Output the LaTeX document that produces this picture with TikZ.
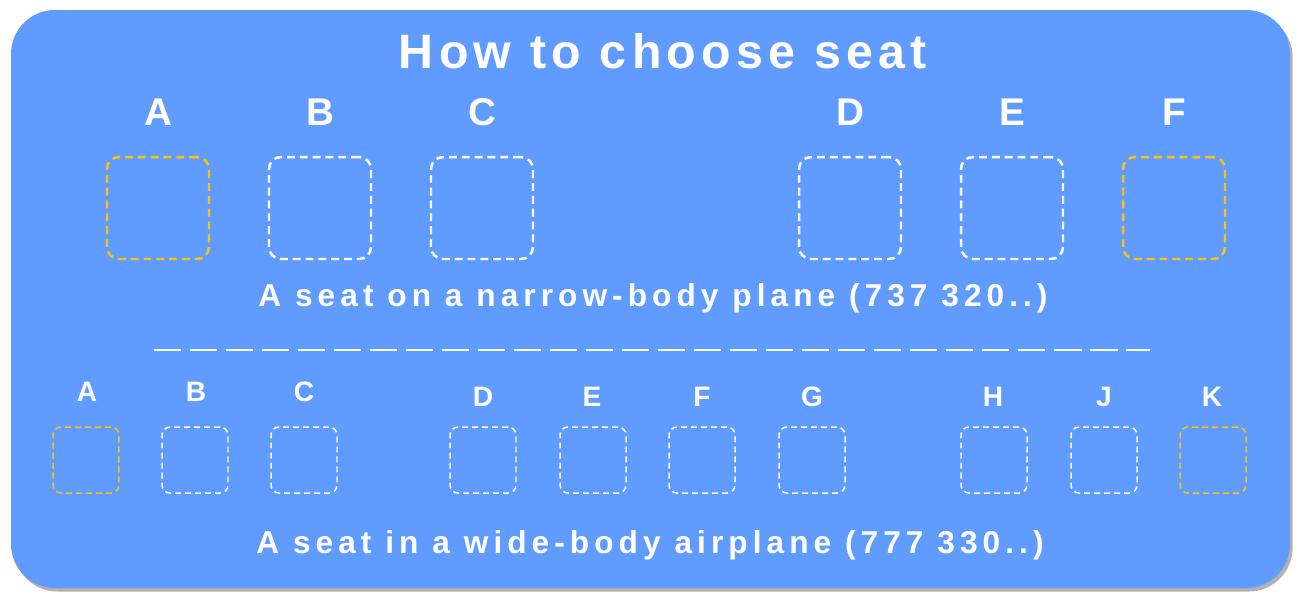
\documentclass[tikz,border=0pt]{standalone}
\usepackage{fontspec}
\setmainfont{Liberation Sans}
\usetikzlibrary{shadows}

\definecolor{planeblue}{RGB}{96,156,255}
\definecolor{seatgold}{RGB}{255,193,7}

\tikzset{
  bigseat/.style={draw=white, line width=1.4pt, dash pattern=on 4.5pt off 2.8pt,
    rounded corners=6.8pt, minimum size=2.04cm, inner sep=0pt},
  smallseat/.style={draw=white, line width=0.85pt, dash pattern=on 3.4pt off 2.3pt,
    rounded corners=4.5pt, minimum size=1.32cm, inner sep=0pt},
  window/.style={draw=seatgold},
  bigletter/.style={text=white, font=\fontsize{22}{24}\selectfont\bfseries},
  smallletter/.style={text=white, font=\fontsize{16}{18}\selectfont\bfseries},
  caption/.style={text=white, font=\addfontfeature{LetterSpace=16}\fontsize{18}{20}\selectfont\bfseries}
}

\begin{document}
\begin{tikzpicture}[x=0.02cm, y=-0.02cm]
\useasboundingbox (0,0) rectangle (1300,600);

% Fond
\fill[planeblue, rounded corners=25pt,
  drop shadow={shadow xshift=1.5pt, shadow yshift=-2pt, opacity=0.3, fill=black}]
(11,10)
rectangle
(1290,588);

\node[text=white, font=\addfontfeature{LetterSpace=11}\fontsize{27.5}{30}\selectfont\bfseries]
(title) at (663,51) {How to choose seat};

% Couloir unique
\node[bigletter] (nA) at (158,112) {A};
\node[bigletter] (nB) at (320,112) {B};
\node[bigletter] (nC) at (482,112) {C};
\node[bigletter] (nD) at (850,112) {D};
\node[bigletter] (nE) at (1012,112) {E};
\node[bigletter] (nF) at (1174,112) {F};

\node[bigseat, window] (seatnA) at (158,208) {};
\node[bigseat] (seatnB) at (320,208) {};
\node[bigseat] (seatnC) at (482,208) {};
\node[bigseat] (seatnD) at (850,208) {};
\node[bigseat] (seatnE) at (1012,208) {};
\node[bigseat, window] (seatnF) at (1174,208) {};

\node[caption] (narrow) at (653,298)
{A seat on a narrow-body plane (737 320..)};

% Separation
\coordinate (sepL) at (154,350);
\coordinate (sepR) at (1150,350);
\draw[white, line width=0.9pt, dash pattern=on 15.4pt off 5.1pt]
(sepL)
--
(sepR);

% Deux couloirs
\node[smallletter] (wA) at (87,392) {A};
\node[smallletter] (wB) at (196,392) {B};
\node[smallletter] (wC) at (304,392) {C};
\node[smallletter] (wD) at (483,397) {D};
\node[smallletter] (wE) at (592,397) {E};
\node[smallletter] (wF) at (702,397) {F};
\node[smallletter] (wG) at (812,397) {G};
\node[smallletter] (wH) at (993,397) {H};
\node[smallletter] (wJ) at (1104,397) {J};
\node[smallletter] (wK) at (1212,397) {K};

\node[smallseat, window] (seatwA) at (86,460) {};
\node[smallseat] (seatwB) at (195,460) {};
\node[smallseat] (seatwC) at (304,460) {};
\node[smallseat] (seatwD) at (483,460) {};
\node[smallseat] (seatwE) at (593,460) {};
\node[smallseat] (seatwF) at (702,460) {};
\node[smallseat] (seatwG) at (812,460) {};
\node[smallseat] (seatwH) at (994,460) {};
\node[smallseat] (seatwJ) at (1104,460) {};
\node[smallseat, window] (seatwK) at (1213,460) {};

\node[caption] (wide) at (650,545)
{A seat in a wide-body airplane (777 330..)};

\end{tikzpicture}
\end{document}
